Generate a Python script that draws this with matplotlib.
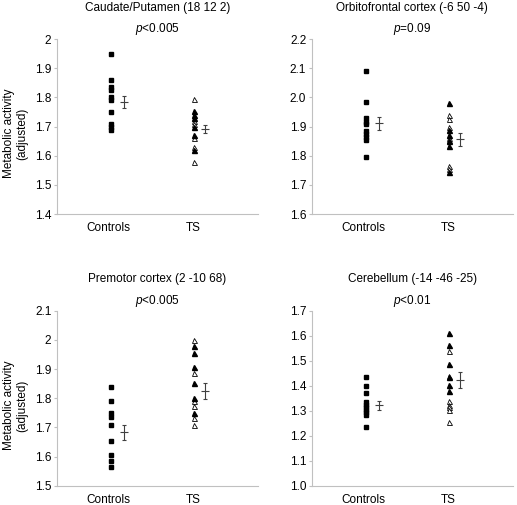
import matplotlib
matplotlib.use('Agg')
from matplotlib import pyplot as plt

# fonts: arial-like everywhere, italic p through mathtext
plt.rcParams['font.family'] = 'Liberation Sans'
plt.rcParams['mathtext.fontset'] = 'custom'
plt.rcParams['mathtext.rm'] = 'Liberation Sans'
plt.rcParams['mathtext.it'] = 'Liberation Sans:italic'

groups = ['Controls', 'TS']
titles = ['Caudate/Putamen (18 12 2)', 'Orbitofrontal cortex (-6 50 -4)',
          'Premotor cortex (2 -10 68)', 'Cerebellum (-14 -46 -25)']
pvalues = ['$p$<0.005', '$p$=0.09', '$p$<0.005', '$p$<0.01']

# caudate/putamen
caud_ctrl = [1.95, 1.86, 1.835, 1.825, 1.80, 1.79, 1.75, 1.71, 1.70, 1.69]
caud_ts_filled = [1.755, 1.74, 1.73, 1.70, 1.67, 1.62]
caud_ts_open = [1.795, 1.72, 1.71, 1.66, 1.63, 1.58]
caud_mean = [1.785, 1.693]
caud_sem = [0.020, 0.014]
caud_ticks = [1.4, 1.5, 1.6, 1.7, 1.8, 1.9, 2.0]
caud_ticklabels = ['1.4', '1.5', '1.6', '1.7', '1.8', '1.9', '2']

# orbitofrontal cortex
orb_ctrl = [2.09, 1.985, 1.93, 1.915, 1.91, 1.885, 1.875, 1.865, 1.855, 1.795]
orb_ts_filled = [1.98, 1.89, 1.87, 1.85, 1.835, 1.745]
orb_ts_open = [1.94, 1.925, 1.90, 1.86, 1.855, 1.765, 1.755]
orb_mean = [1.911, 1.856]
orb_sem = [0.021, 0.021]
orb_ticks = [1.6, 1.7, 1.8, 1.9, 2.0, 2.1, 2.2]
orb_ticklabels = ['1.6', '1.7', '1.8', '1.9', '2.0', '2.1', '2.2']

# premotor cortex
pre_ctrl = [1.84, 1.79, 1.75, 1.735, 1.71, 1.655, 1.605, 1.585, 1.565]
pre_ts_filled = [1.978, 1.956, 1.907, 1.852, 1.80, 1.75]
pre_ts_open = [2.0, 1.888, 1.79, 1.773, 1.733, 1.707]
pre_mean = [1.683, 1.826]
pre_sem = [0.026, 0.028]
pre_ticks = [1.5, 1.6, 1.7, 1.8, 1.9, 2.0, 2.1]
pre_ticklabels = ['1.5', '1.6', '1.7', '1.8', '1.9', '2', '2.1']

# cerebellum
cer_ctrl = [1.435, 1.40, 1.37, 1.335, 1.325, 1.315, 1.305, 1.295, 1.285, 1.235]
cer_ts_filled = [1.61, 1.565, 1.488, 1.435, 1.405, 1.38]
cer_ts_open = [1.538, 1.44, 1.34, 1.325, 1.315, 1.305, 1.255]
cer_mean = [1.322, 1.424]
cer_sem = [0.017, 0.033]
cer_ticks = [1.0, 1.1, 1.2, 1.3, 1.4, 1.5, 1.6, 1.7]
cer_ticklabels = ['1.0', '1.1', '1.2', '1.3', '1.4', '1.5', '1.6', '1.7']

panels = [
    (caud_ctrl, caud_ts_filled, caud_ts_open, caud_mean, caud_sem, caud_ticks, caud_ticklabels),
    (orb_ctrl, orb_ts_filled, orb_ts_open, orb_mean, orb_sem, orb_ticks, orb_ticklabels),
    (pre_ctrl, pre_ts_filled, pre_ts_open, pre_mean, pre_sem, pre_ticks, pre_ticklabels),
    (cer_ctrl, cer_ts_filled, cer_ts_open, cer_mean, cer_sem, cer_ticks, cer_ticklabels),
]

fig = plt.figure(figsize=(5.17, 5.05), dpi=100)
# axes boxes in figure fractions (left, bottom, width, height)
boxes = [(0.110, 0.576, 0.389, 0.3465), (0.603, 0.576, 0.389, 0.3465),
         (0.110, 0.038, 0.389, 0.3465), (0.603, 0.038, 0.389, 0.3465)]

spine_grey = '#c0c0c0'
bar_grey = '#404040'

for i, (ctrl, ts_f, ts_o, mean, sem, ticks, ticklabels) in enumerate(panels):
    ax = fig.add_axes(boxes[i])
    # individual subjects
    ax.plot([1.07] * len(ctrl), ctrl, 's', color='black', markersize=3.0, linestyle='none')
    ax.plot([2.72] * len(ts_o), ts_o, '^', markerfacecolor='white', markeredgecolor='black',
            markeredgewidth=0.6, markersize=3.6, linestyle='none')
    ax.plot([2.72] * len(ts_f), ts_f, '^', color='black', markersize=3.6, linestyle='none')
    # group mean +/- sem
    ax.errorbar([1.34, 2.95], mean, yerr=sem, fmt='_', color=bar_grey, markersize=5.5,
                capsize=1.3, elinewidth=0.8, capthick=0.8, markeredgewidth=0.8)

    ax.set_xlim(0, 4)
    ax.set_ylim(ticks[0], ticks[-1])
    ax.set_yticks(ticks)
    ax.set_yticklabels(ticklabels)
    ax.set_xticks([1.02, 2.72])
    ax.set_xticklabels(groups)

    # spines / ticks
    for side in ['top', 'right']:
        ax.spines[side].set_visible(False)
    for side in ['left', 'bottom']:
        ax.spines[side].set_color(spine_grey)
        ax.spines[side].set_linewidth(0.8)
    ax.tick_params(axis='y', length=2.5, color=spine_grey, labelsize=8.5, pad=1.5)
    ax.tick_params(axis='x', length=0, labelsize=8.5, pad=6)

    # titles
    ax.text(0.5, 1.18, titles[i], transform=ax.transAxes, ha='center', va='center', fontsize=8.5)
    ax.text(0.5, 1.058, pvalues[i], transform=ax.transAxes, ha='center', va='center', fontsize=8.5)

    if i % 2 == 0:
        ax.text(-0.205, 0.46, 'Metabolic activity\n(adjusted)', transform=ax.transAxes,
                rotation=90, ha='center', va='center', multialignment='center', fontsize=8.5)

plt.savefig('out.png', dpi=100)
plt.close()
